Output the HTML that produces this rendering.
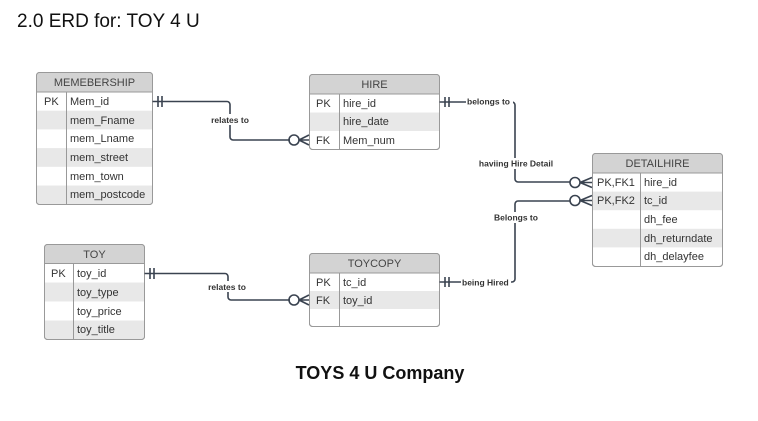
<!DOCTYPE html>
<html><head><meta charset="utf-8"><style>
html,body{margin:0;padding:0;background:#fff;}
svg{display:block;}
text{font-family:"Liberation Sans",Arial,sans-serif;}
.t{font-size:11px;fill:#333;}
.h{font-size:11px;fill:#444;text-anchor:middle;}
.l{font-size:8.5px;font-weight:bold;fill:#333;}
.ln{stroke:#3a4350;stroke-width:1.6;fill:none;}
</style></head><body>
<svg width="758" height="421" viewBox="0 0 758 421" xmlns="http://www.w3.org/2000/svg">
<text x="17" y="27" style="font-size:19px;fill:#111">2.0 ERD for: TOY 4 U</text>
<text x="380" y="379" text-anchor="middle" style="font-size:18px;font-weight:bold;fill:#111">TOYS 4 U Company</text>

<!-- MEMEBERSHIP -->
<g>
<rect x="36.5" y="72.5" width="116" height="132" rx="3" fill="#fff" stroke="#999"/>
<path d="M36.5 92 V75.5 a3 3 0 0 1 3 -3 H149.5 a3 3 0 0 1 3 3 V92 Z" fill="#d3d3d3"/>
<rect x="37" y="110.7" width="115" height="18.7" fill="#e8e8e8"/>
<rect x="37" y="148.1" width="115" height="18.7" fill="#e8e8e8"/>
<rect x="37" y="185.5" width="115" height="18.5" fill="#e8e8e8"/>
<line x1="36.5" y1="92" x2="152.5" y2="92" stroke="#999"/>
<line x1="66.5" y1="92" x2="66.5" y2="204.5" stroke="#999"/>
<rect x="36.5" y="72.5" width="116" height="132" rx="3" fill="none" stroke="#999"/>
<text class="h" x="94.5" y="86">MEMEBERSHIP</text>
<text class="t" x="44" y="105">PK</text>
<text class="t" x="70" y="105">Mem_id</text>
<text class="t" x="70" y="124">mem_Fname</text>
<text class="t" x="70" y="142">mem_Lname</text>
<text class="t" x="70" y="161">mem_street</text>
<text class="t" x="70" y="180">mem_town</text>
<text class="t" x="70" y="198">mem_postcode</text>
</g>

<!-- HIRE -->
<g>
<rect x="309.5" y="74.5" width="130" height="75" rx="3" fill="#fff" stroke="#999"/>
<path d="M309.5 94 V77.5 a3 3 0 0 1 3 -3 H436.5 a3 3 0 0 1 3 3 V94 Z" fill="#d3d3d3"/>
<rect x="310" y="112.5" width="129" height="18.5" fill="#e8e8e8"/>
<line x1="309.5" y1="94" x2="439.5" y2="94" stroke="#999"/>
<line x1="339.5" y1="94" x2="339.5" y2="149.5" stroke="#999"/>
<rect x="309.5" y="74.5" width="130" height="75" rx="3" fill="none" stroke="#999"/>
<text class="h" x="374.5" y="88">HIRE</text>
<text class="t" x="316" y="107">PK</text>
<text class="t" x="343" y="107">hire_id</text>
<text class="t" x="343" y="125">hire_date</text>
<text class="t" x="316" y="144">FK</text>
<text class="t" x="343" y="144">Mem_num</text>
</g>

<!-- DETAILHIRE -->
<g>
<rect x="592.5" y="153.5" width="130" height="113" rx="3" fill="#fff" stroke="#999"/>
<path d="M592.5 173 V156.5 a3 3 0 0 1 3 -3 H719.5 a3 3 0 0 1 3 3 V173 Z" fill="#d3d3d3"/>
<rect x="593" y="191.6" width="129" height="18.6" fill="#e8e8e8"/>
<rect x="593" y="228.8" width="129" height="18.6" fill="#e8e8e8"/>
<line x1="592.5" y1="173" x2="722.5" y2="173" stroke="#999"/>
<line x1="640.5" y1="173" x2="640.5" y2="266.5" stroke="#999"/>
<rect x="592.5" y="153.5" width="130" height="113" rx="3" fill="none" stroke="#999"/>
<text class="h" x="657.5" y="167">DETAILHIRE</text>
<text class="t" x="597" y="186">PK,FK1</text>
<text class="t" x="644" y="186">hire_id</text>
<text class="t" x="597" y="204">PK,FK2</text>
<text class="t" x="644" y="204">tc_id</text>
<text class="t" x="644" y="223">dh_fee</text>
<text class="t" x="644" y="242">dh_returndate</text>
<text class="t" x="644" y="260">dh_delayfee</text>
</g>

<!-- TOY -->
<g>
<rect x="44.5" y="244.5" width="100" height="95" rx="3" fill="#fff" stroke="#999"/>
<path d="M44.5 263.5 V247.5 a3 3 0 0 1 3 -3 H141.5 a3 3 0 0 1 3 3 V263.5 Z" fill="#d3d3d3"/>
<rect x="45" y="282.5" width="99" height="19" fill="#e8e8e8"/>
<rect x="45" y="320.5" width="99" height="18.5" fill="#e8e8e8"/>
<line x1="44.5" y1="263.5" x2="144.5" y2="263.5" stroke="#999"/>
<line x1="73.5" y1="263.5" x2="73.5" y2="339.5" stroke="#999"/>
<rect x="44.5" y="244.5" width="100" height="95" rx="3" fill="none" stroke="#999"/>
<text class="h" x="94.5" y="258">TOY</text>
<text class="t" x="51" y="277">PK</text>
<text class="t" x="77" y="277">toy_id</text>
<text class="t" x="77" y="296">toy_type</text>
<text class="t" x="77" y="315">toy_price</text>
<text class="t" x="77" y="333">toy_title</text>
</g>

<!-- TOYCOPY -->
<g>
<rect x="309.5" y="253.5" width="130" height="73" rx="3" fill="#fff" stroke="#999"/>
<path d="M309.5 273 V256.5 a3 3 0 0 1 3 -3 H436.5 a3 3 0 0 1 3 3 V273 Z" fill="#d3d3d3"/>
<rect x="310" y="291" width="129" height="18" fill="#e8e8e8"/>
<line x1="309.5" y1="273" x2="439.5" y2="273" stroke="#999"/>
<line x1="339.5" y1="273" x2="339.5" y2="326.5" stroke="#999"/>
<rect x="309.5" y="253.5" width="130" height="73" rx="3" fill="none" stroke="#999"/>
<text class="h" x="374.5" y="267">TOYCOPY</text>
<text class="t" x="316" y="286">PK</text>
<text class="t" x="343" y="286">tc_id</text>
<text class="t" x="316" y="304">FK</text>
<text class="t" x="343" y="304">toy_id</text>
</g>

<!-- connectors -->
<!-- Membership -> Hire -->
<path class="ln" d="M152.5 101.5 H227 a3 3 0 0 1 3 3 V137 a3 3 0 0 0 3 3 H290"/>
<line class="ln" x1="158" y1="96" x2="158" y2="107"/>
<line class="ln" x1="162" y1="96" x2="162" y2="107"/>
<circle class="ln" cx="294" cy="140" r="5" fill="#fff"/>
<path class="ln" d="M299 140 H309 M299 140 L309 135 M299 140 L309 145"/>
<rect x="207" y="114" width="46" height="11" fill="#fff"/>
<text class="l" x="230" y="123" text-anchor="middle">relates to</text>

<!-- Hire -> Detailhire -->
<path class="ln" d="M439.5 102 H512 a3 3 0 0 1 3 3 V179 a3 3 0 0 0 3 3 H570"/>
<line class="ln" x1="445" y1="97" x2="445" y2="107"/>
<line class="ln" x1="449" y1="97" x2="449" y2="107"/>
<rect x="466" y="96" width="47" height="11" fill="#fff"/>
<text class="l" x="467" y="104.5">belongs to</text>
<circle class="ln" cx="575" cy="182.5" r="5" fill="#fff"/>
<path class="ln" d="M580 182.5 H592 M580 182.5 L592 177.5 M580 182.5 L592 187.5"/>
<rect x="476" y="158" width="80" height="11" fill="#fff"/>
<text class="l" x="516" y="166.5" text-anchor="middle">haviing Hire Detail</text>

<!-- Toycopy -> Detailhire -->
<path class="ln" d="M439.5 282 H512 a3 3 0 0 0 3 -3 V204 a3 3 0 0 1 3 -3 H570"/>
<line class="ln" x1="445" y1="277" x2="445" y2="287"/>
<line class="ln" x1="449" y1="277" x2="449" y2="287"/>
<rect x="461" y="277" width="50" height="11" fill="#fff"/>
<text class="l" x="462" y="285.5">being Hired</text>
<circle class="ln" cx="575" cy="200.5" r="5" fill="#fff"/>
<path class="ln" d="M580 200.5 H592 M580 200.5 L592 195.5 M580 200.5 L592 205.5"/>
<rect x="490" y="212" width="52" height="11" fill="#fff"/>
<text class="l" x="516" y="220.5" text-anchor="middle">Belongs to</text>

<!-- Toy -> Toycopy -->
<path class="ln" d="M144.5 273.5 H225 a3 3 0 0 1 3 3 V297 a3 3 0 0 0 3 3 H290"/>
<line class="ln" x1="150" y1="268" x2="150" y2="279"/>
<line class="ln" x1="154" y1="268" x2="154" y2="279"/>
<circle class="ln" cx="294" cy="300" r="5" fill="#fff"/>
<path class="ln" d="M299 300 H309 M299 300 L309 295 M299 300 L309 305"/>
<rect x="204" y="281" width="47" height="11" fill="#fff"/>
<text class="l" x="227" y="290" text-anchor="middle">relates to</text>
</svg>
</body></html>
